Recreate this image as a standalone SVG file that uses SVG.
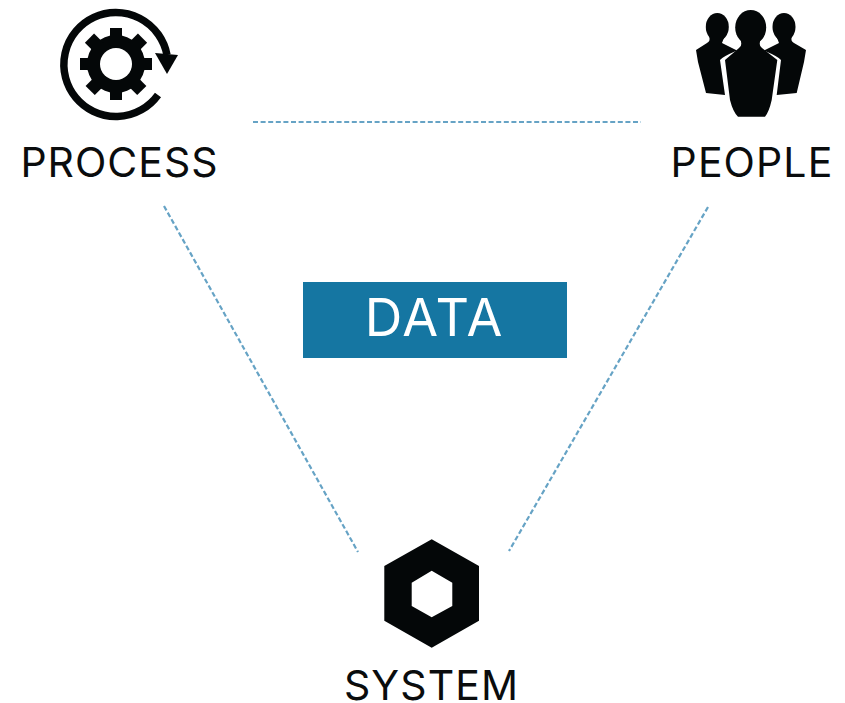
<svg xmlns="http://www.w3.org/2000/svg" width="845" height="703" viewBox="0 0 845 703">
<style>
.lbl{font-family:"Inter","Liberation Sans",sans-serif;font-size:41px;font-weight:400;fill:#0a0c0d;text-anchor:middle}
.ic{fill:#040708}
.dash{fill:none;stroke:#66a3c5;stroke-width:2.200;stroke-dasharray:5 2.600}
</style>
<rect width="845" height="703" fill="#ffffff"/>
<g id="connectors">
<line class="dash" x1="253" y1="122" x2="641" y2="122"/>
<line class="dash" x1="164" y1="206" x2="358" y2="552"/>
<line class="dash" x1="708" y1="207" x2="509" y2="551"/>
</g>
<g id="process">
<path d="M158 95A52 52 0 1 1 167 55" fill="none" stroke="#040708" stroke-width="7.500"/>
<polygon class="ic" points="155,53 178,55 167,74"/>
<g class="ic">
<circle cx="116" cy="64" r="29"/>
<rect x="110" y="28" width="12" height="72"/>
<rect x="110" y="27" width="13" height="74" transform="rotate(45 116 64)"/>
<rect x="110" y="28" width="12" height="72" transform="rotate(90 116 64)"/>
<rect x="110" y="27" width="13" height="74" transform="rotate(135 116 64)"/>
</g>
<circle cx="116" cy="64" r="16" fill="#ffffff"/>
<text class="lbl" x="119.500" y="177" letter-spacing="1">PROCESS</text>
</g>
<g id="people">
<g class="ic">
<ellipse cx="717.300" cy="27" rx="11.500" ry="14"/>
<path d="M709 36Q711 41 707 43L696 50L698 62L706 93L725 95L720 60Q722 57 737 50.500L722 43Q723 40 725 36Z"/>
<ellipse cx="784" cy="27" rx="11.500" ry="14"/>
<path d="M792 36Q790 41 794 43L806 50L804 62L796.700 93L776.700 95L781 60Q779 57 764 50.500L779 43Q778 40 776 36Z"/>
<ellipse cx="750.700" cy="27.500" rx="15.500" ry="17.500"/>
<path d="M740 38Q743 46 739 48L725 60L730 100Q733 112 738 116.700L765 116.700Q769 112 771.700 100L777.300 60L762 48Q758 46 761 38Z"/>
</g>
<text class="lbl" x="752" y="177" letter-spacing="1.100">PEOPLE</text>
</g>
<g id="data">
<rect x="303" y="282" width="264" height="76" fill="#1576a2"/>
<text x="434.500" y="336" text-anchor="middle" font-family="Inter,'Liberation Sans',sans-serif" font-weight="400" font-size="52" letter-spacing="1.800" fill="#ffffff">DATA</text>
</g>
<g id="system">
<path class="ic" fill-rule="evenodd" d="M431.700 539.300L479 566L479 620.700L431.700 647.700L384.300 620.700L384.300 566ZM431.700 570.700L411.700 582.700L411.700 606L431.700 617.300L452.300 606L452.300 582.700Z"/>
<text class="lbl" x="431.500" y="700" letter-spacing="1.100">SYSTEM</text>
</g>
</svg>
